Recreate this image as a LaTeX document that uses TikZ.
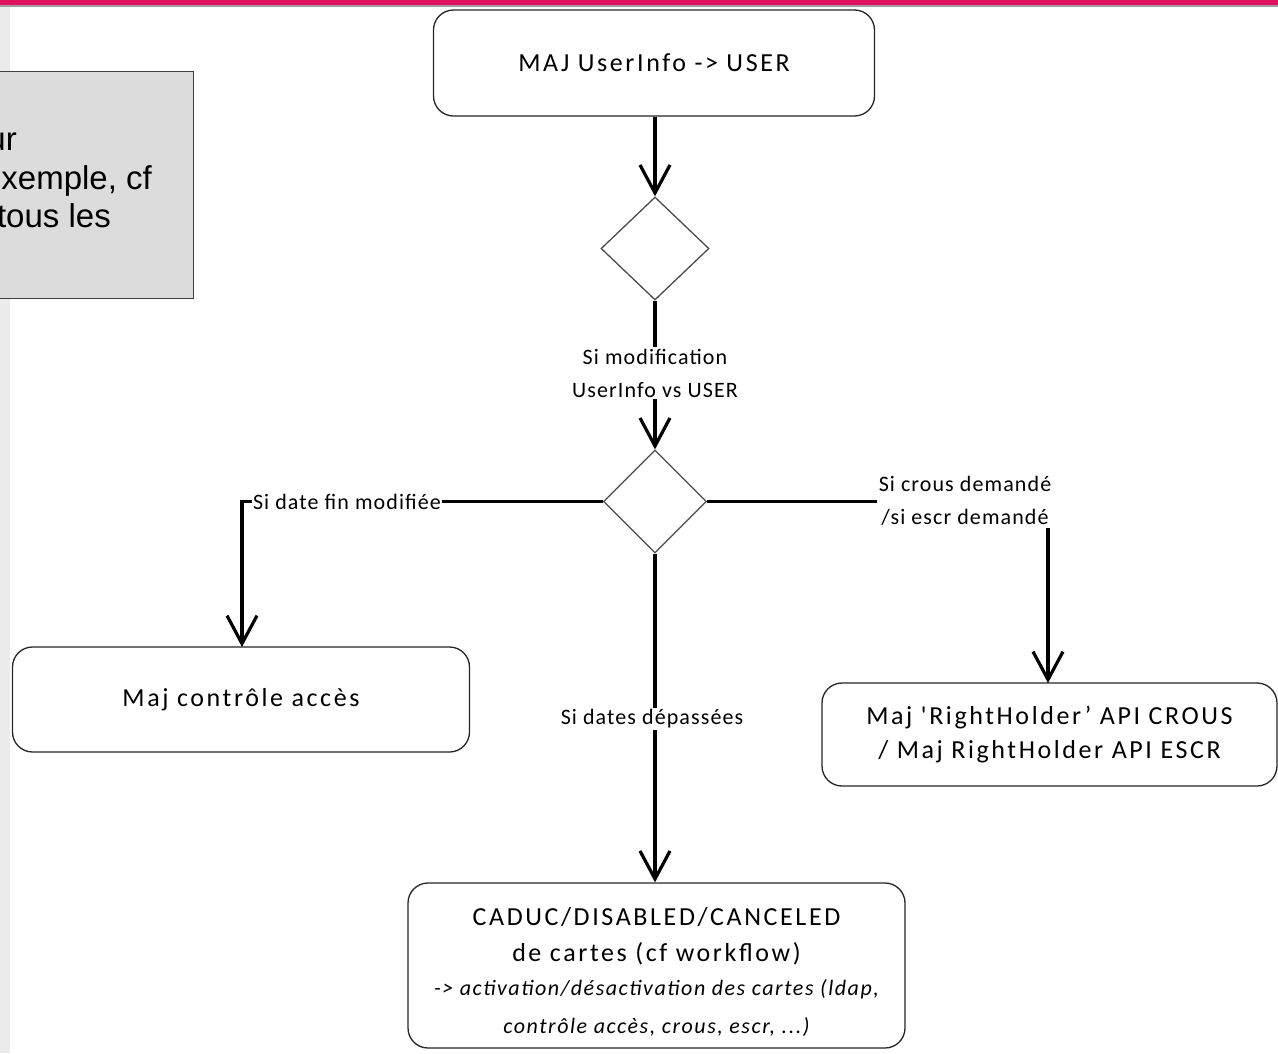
\documentclass[tikz,border=0pt]{standalone}
\usepackage{fontspec}
\setmainfont{Liberation Sans}
\newfontfamily\boxfont[LetterSpace=10]{Carlito}
\newfontfamily\labfont[LetterSpace=5]{Carlito}
\newfontfamily\itfont[LetterSpace=7]{Carlito}
\usetikzlibrary{shapes.geometric,arrows.meta}
\definecolor{pinkbar}{HTML}{E0115F}
\definecolor{notegray}{HTML}{DCDCDC}
\definecolor{stripgray}{HTML}{EBEBEB}
\tikzset{
  stepbox/.style={draw=black!85, line width=1.3pt, rounded corners=20pt, fill=white, inner sep=0pt,
    font=\boxfont\fontsize{26}{34}\selectfont, align=center},
  decision/.style={diamond, draw=black!70, line width=1.3pt, fill=white, inner sep=0pt},
  conn/.style={line width=3.2pt, draw=black},
  arr/.style={conn, -{Straight Barb[length=28pt,width=30pt]}},
  lab/.style={fill=white, inner sep=1.5pt, font=\labfont\fontsize{22}{33}\selectfont, align=center},
}
\begin{document}
\begin{tikzpicture}[x=1pt,y=-1pt]
\useasboundingbox (0,0) rectangle (1278,1053);
% page decoration
\fill[pinkbar] (0,0) rectangle (1278,4.5);
\fill[black!38] (0,4.5) rectangle (1278,7);
\fill[stripgray] (0,7) rectangle (10,1053);
% clipped note
\begin{scope}
\clip (0,0) rectangle (1278,1053);
\draw[fill=notegray, draw=black!75, line width=1pt] (-3,71) rectangle (193,298);
\node[anchor=base east, inner sep=0pt, font=\fontsize{33}{38}\selectfont] (n1) at (17,150) {ur};
\node[anchor=base east, inner sep=0pt, font=\fontsize{33}{38}\selectfont] (n2) at (152,189) {xemple, cf};
\node[anchor=base east, inner sep=0pt, font=\fontsize{33}{38}\selectfont] (n3) at (111,227) {tous les};
\end{scope}
% nodes
\node[stepbox, minimum width=441pt, minimum height=106pt] (top) at (654,63) {MAJ UserInfo -> USER};
\node[decision, minimum width=108pt, minimum height=103pt] (d1) at (655,248.5) {};
\node[decision, minimum width=103pt, minimum height=103pt] (d2) at (655,501.5) {};
\node[stepbox, minimum width=457pt, minimum height=105pt] (left) at (241,699.5) {Maj contrôle accès};
\node[stepbox, minimum width=455pt, minimum height=103pt] (right) at (1049.5,734.5) {Maj 'RightHolder’ API CROUS\\/ Maj RightHolder API ESCR};
\node[stepbox, minimum width=497pt, minimum height=165pt] (bot) at (656.5,965.5) {};
\node[align=center, inner sep=0pt, font=\boxfont\fontsize{26}{36}\selectfont] (bottext) at (656.5,972) {CADUC/DISABLED/CANCELED\\de cartes (cf workflow)\\[-2pt]
{\itfont\itshape\fontsize{22}{38}\selectfont -> activation/désactivation des cartes (ldap,}\\[2pt]
{\itfont\itshape\fontsize{22}{38}\selectfont contrôle accès, crous, escr, ...)}};
% connectors
\draw[arr] (d1.north |- top.south) -- (d1.north);
\draw[arr] (d1.south) -- (d2.north);
\draw[arr] (d2.west) -| (242,647);
\draw[arr] (d2.east) -| (1048,683);
\draw[arr] (d2.south) -- (d2.south |- bot.north);
% labels
\node[lab] (l1) at (655,373) {Si modification\\UserInfo vs USER};
\node[lab] (l2) at (347,501.5) {Si date fin modifiée};
\node[lab, inner sep=2pt] (l3) at (965,501) {Si crous demandé\\/si escr demandé};
\node[lab] (l4) at (652,719) {Si dates dépassées};
\end{tikzpicture}
\end{document}
